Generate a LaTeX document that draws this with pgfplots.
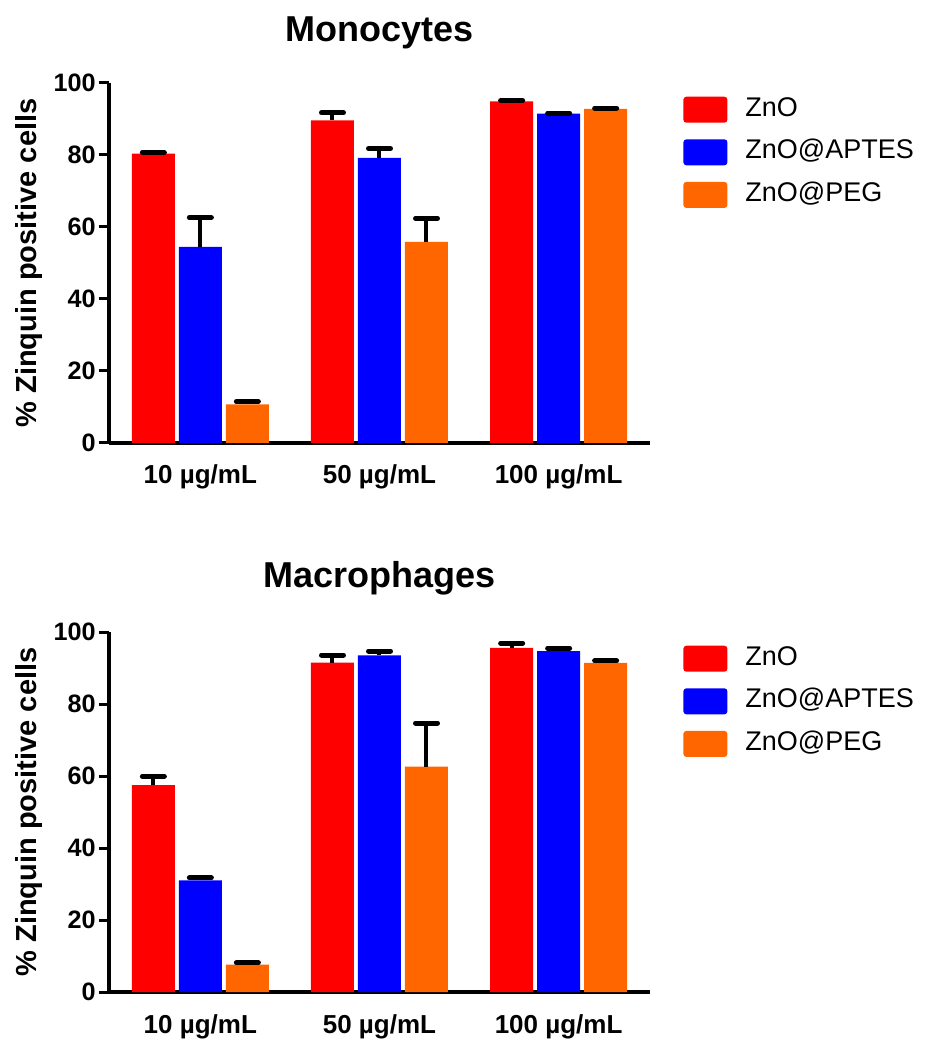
\documentclass[border=0pt]{standalone}
\usepackage{fontspec}
\setmainfont{Liberation Sans}
\usepackage{pgfplots}
\pgfplotsset{compat=1.18}
\definecolor{cRed}{RGB}{255,0,0}
\definecolor{cBlue}{RGB}{0,0,255}
\definecolor{cOrange}{RGB}{255,102,0}
\pgfplotsset{
  zinc/.style={
    scale only axis, width=270.5pt, height=180pt,
    ybar=2pt, bar width=21.5pt,
    xmin=-0.51, xmax=2.51, ymin=0, ymax=100,
    axis x line=bottom, axis y line=left,
    axis line style={-, line width=1.6pt},
    xtick={0,1,2},
    xticklabels={10 µg/mL, 50 µg/mL, 100 µg/mL},
    ytick={0,20,40,60,80,100},
    tick align=outside, major tick length=5pt,
    ytick style={line width=1.5pt, black},
    xtick style={draw=none},
    /pgf/number format/assume math mode=true,
    yticklabel style={font=\bfseries\fontsize{12.6}{14}\selectfont, inner sep=1.5pt, anchor=east},
    xticklabel style={font=\bfseries\fontsize{13}{15}\selectfont, anchor=base, inner sep=0pt, yshift=-15.5pt},
    ylabel={\% Zinquin positive cells},
    every axis y label/.style={at={(axis description cs:-0.148,0.5)}, rotate=90, anchor=center, font=\bfseries\fontsize{14.5}{16}\selectfont},
    every axis title/.style={at={(axis description cs:0.5,1)}, anchor=base, yshift=20.5pt, font=\bfseries\fontsize{18}{20}\selectfont},
    legend style={at={(axis description cs:1.061,0.963)}, anchor=north west, draw=none, fill=none, inner sep=0pt, row sep=8.3pt,
      font=\fontsize{13.5}{15}\selectfont, nodes={inner sep=0pt, text height=9.7pt, text depth=3.3pt}},
    legend cell align=left,
    legend image code/.code={\fill[##1, rounded corners=1.5pt] (0pt,-6.5pt) rectangle (22pt,6.5pt); \path (31pt,0pt);},
    error bars/y dir=plus, error bars/y explicit,
    error bars/error mark=-,
    error bars/error bar style={line width=2pt, black},
    error bars/error mark options={rotate=90, line width=2.5pt, line cap=round, mark size=5.5pt, black},
  }
}
\begin{document}
\begin{tikzpicture}
\useasboundingbox (0,0) rectangle (464.5pt,520pt);
\begin{axis}[zinc, at={(54.5pt,298.5pt)}, anchor=south west, title={Monocytes}]
\addplot[fill=cRed, draw=none] coordinates {(0,80.4) +- (0,0.3) (1,89.6) +- (0,2.1) (2,94.9) +- (0,0.2)};
\addplot[fill=cBlue, draw=none] coordinates {(0,54.5) +- (0,8.1) (1,79.2) +- (0,2.6) (2,91.5) +- (0,0.1)};
\addplot[fill=cOrange, draw=none] coordinates {(0,10.7) +- (0,0.8) (1,55.9) +- (0,6.5) (2,92.8) +- (0,0.2)};
\legend{ZnO, ZnO@APTES, ZnO@PEG}
\end{axis}
\begin{axis}[zinc, at={(54.5pt,24pt)}, anchor=south west, title={Macrophages}, every axis title/.append style={yshift=1.5pt}]
\addplot[fill=cRed, draw=none] coordinates {(0,57.5) +- (0,2.4) (1,91.5) +- (0,2.1) (2,95.6) +- (0,1.3)};
\addplot[fill=cBlue, draw=none] coordinates {(0,31.0) +- (0,0.7) (1,93.5) +- (0,1.2) (2,94.7) +- (0,0.8)};
\addplot[fill=cOrange, draw=none] coordinates {(0,7.6) +- (0,0.5) (1,62.6) +- (0,12.1) (2,91.4) +- (0,0.6)};
\legend{ZnO, ZnO@APTES, ZnO@PEG}
\end{axis}
\end{tikzpicture}
\end{document}
